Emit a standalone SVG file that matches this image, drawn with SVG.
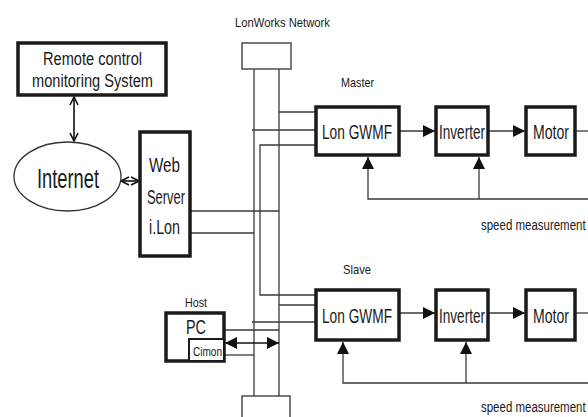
<svg xmlns="http://www.w3.org/2000/svg" width="588" height="417" viewBox="0 0 588 417">
<defs>
<style>
text{font-family:"Liberation Sans",Arial,sans-serif;fill:#1a1a1a}
.box{fill:#fff;stroke:#1a1a1a;stroke-width:3.5}
.thin{fill:#fff;stroke:#333;stroke-width:1.3}
.ln{fill:none;stroke:#3a3a3a;stroke-width:1.3}
.big{font-size:20px}
.lbl{font-size:13px}
</style>
<marker id="tri2" viewBox="0 0 12 12" refX="12" refY="6" markerWidth="12" markerHeight="12" markerUnits="userSpaceOnUse" orient="auto-start-reverse">
<path d="M0,0 L12,6 L0,12 Z" fill="#111"/>
</marker>
<marker id="vee" viewBox="0 0 10 10" refX="9" refY="5" markerWidth="10" markerHeight="10" markerUnits="userSpaceOnUse" orient="auto-start-reverse">
<path d="M1,1 L9,5 L1,9" fill="none" stroke="#111" stroke-width="1.6"/>
</marker>
</defs>

<text class="lbl" x="235" y="27" textLength="95" lengthAdjust="spacingAndGlyphs">LonWorks Network</text>

<g id="connectors">
<!-- bus -->
<line class="ln" x1="254" y1="69" x2="254" y2="396"/>
<line class="ln" x1="279" y1="69" x2="279" y2="396"/>
<!-- remote <-> internet -->
<line x1="74" y1="97" x2="74" y2="141" stroke="#111" stroke-width="1.6" marker-start="url(#vee)" marker-end="url(#vee)"/>
<!-- internet <-> web -->
<line x1="121" y1="181" x2="139" y2="181" stroke="#111" stroke-width="1.6" marker-start="url(#vee)" marker-end="url(#vee)"/>
<!-- web server lines -->
<line class="ln" x1="191" y1="211" x2="279" y2="211"/>
<line class="ln" x1="191" y1="233" x2="254" y2="233"/>
<!-- master gwmf lines -->
<line class="ln" x1="279" y1="112" x2="315" y2="112"/>
<line class="ln" x1="252" y1="130" x2="315" y2="130"/>
<path class="ln" d="M315,145 H260 V295 H315"/>
<!-- slave gwmf lines -->
<line class="ln" x1="279" y1="305" x2="315" y2="305"/>
<line class="ln" x1="252" y1="322" x2="315" y2="322"/>
<!-- host lines -->
<line class="ln" x1="225" y1="330" x2="279" y2="330"/>
<line x1="225" y1="343" x2="279" y2="343" stroke="#111" stroke-width="1.5" marker-start="url(#tri2)" marker-end="url(#tri2)"/>
<line class="ln" x1="225" y1="355" x2="254" y2="355"/>
<!-- master chain -->
<line class="ln" x1="400" y1="131" x2="435" y2="131" marker-end="url(#tri2)"/>
<line class="ln" x1="489" y1="131" x2="525" y2="131" marker-end="url(#tri2)"/>
<line class="ln" x1="576" y1="131" x2="588" y2="131"/>
<path class="ln" d="M588,199 H368 V157" marker-end="url(#tri2)"/>
<line class="ln" x1="479" y1="199" x2="479" y2="157" marker-end="url(#tri2)"/>
<!-- slave chain -->
<line class="ln" x1="400" y1="313" x2="435" y2="313" marker-end="url(#tri2)"/>
<line class="ln" x1="489" y1="313" x2="525" y2="313" marker-end="url(#tri2)"/>
<line class="ln" x1="576" y1="313" x2="588" y2="313"/>
<path class="ln" d="M588,383 H343 V342" marker-end="url(#tri2)"/>
<line class="ln" x1="466" y1="383" x2="466" y2="342" marker-end="url(#tri2)"/>
</g>

<g id="lon-top"><rect class="thin" x="242" y="43" width="49" height="26"/></g>
<g id="lon-bottom"><rect class="thin" x="242" y="396" width="48" height="24"/></g>

<g id="remote">
<rect class="box" x="18" y="43" width="148" height="52"/>
<text x="43" y="65" font-size="18" textLength="99" lengthAdjust="spacingAndGlyphs">Remote control</text>
<text x="32" y="87" font-size="18" textLength="121" lengthAdjust="spacingAndGlyphs">monitoring System</text>
</g>

<g id="internet">
<ellipse cx="67.5" cy="176.5" rx="53.5" ry="34.5" fill="#fff" stroke="#333" stroke-width="1.3"/>
<text x="37" y="188" font-size="27" textLength="62" lengthAdjust="spacingAndGlyphs">Internet</text>
</g>

<g id="webserver">
<rect class="box" x="140" y="132" width="50" height="124"/>
<text class="big" x="149" y="172" textLength="31" lengthAdjust="spacingAndGlyphs">Web</text>
<text class="big" x="147" y="204" textLength="38" lengthAdjust="spacingAndGlyphs">Server</text>
<text class="big" x="149" y="234" textLength="31" lengthAdjust="spacingAndGlyphs">i.Lon</text>
</g>

<g id="master-label"><text class="lbl" x="341" y="87" textLength="33" lengthAdjust="spacingAndGlyphs">Master</text></g>
<g id="master-gwmf">
<rect class="box" x="316" y="107" width="83" height="48"/>
<text class="big" x="322" y="139" textLength="70" lengthAdjust="spacingAndGlyphs">Lon GWMF</text>
</g>
<g id="master-inverter">
<rect class="box" x="436" y="107" width="52" height="48"/>
<text class="big" x="439" y="139" textLength="46" lengthAdjust="spacingAndGlyphs">Inverter</text>
</g>
<g id="master-motor">
<rect class="box" x="526" y="107" width="49" height="48"/>
<text class="big" x="533" y="139" textLength="36" lengthAdjust="spacingAndGlyphs">Motor</text>
</g>
<text transform="translate(481,230) scale(0.82,1)" font-size="14">speed measurement</text>

<g id="slave-label"><text class="lbl" x="343" y="274" textLength="28" lengthAdjust="spacingAndGlyphs">Slave</text></g>
<g id="slave-gwmf">
<rect class="box" x="316" y="290" width="83" height="50"/>
<text class="big" x="322" y="323" textLength="70" lengthAdjust="spacingAndGlyphs">Lon GWMF</text>
</g>
<g id="slave-inverter">
<rect class="box" x="436" y="290" width="52" height="50"/>
<text class="big" x="439" y="323" textLength="46" lengthAdjust="spacingAndGlyphs">Inverter</text>
</g>
<g id="slave-motor">
<rect class="box" x="526" y="290" width="49" height="50"/>
<text class="big" x="533" y="323" textLength="36" lengthAdjust="spacingAndGlyphs">Motor</text>
</g>
<text transform="translate(481,412) scale(0.82,1)" font-size="14">speed measurement</text>

<g id="host">
<text class="lbl" x="185" y="307" textLength="22" lengthAdjust="spacingAndGlyphs">Host</text>
<rect class="box" x="166" y="313" width="58" height="48"/>
<rect x="189" y="339" width="35" height="22" fill="#fff" stroke="#1a1a1a" stroke-width="2"/>
<text x="186" y="334" font-size="21" textLength="20" lengthAdjust="spacingAndGlyphs">PC</text>
<text x="193" y="356" font-size="12" textLength="29" lengthAdjust="spacingAndGlyphs">Cimon</text>
</g>
</svg>
